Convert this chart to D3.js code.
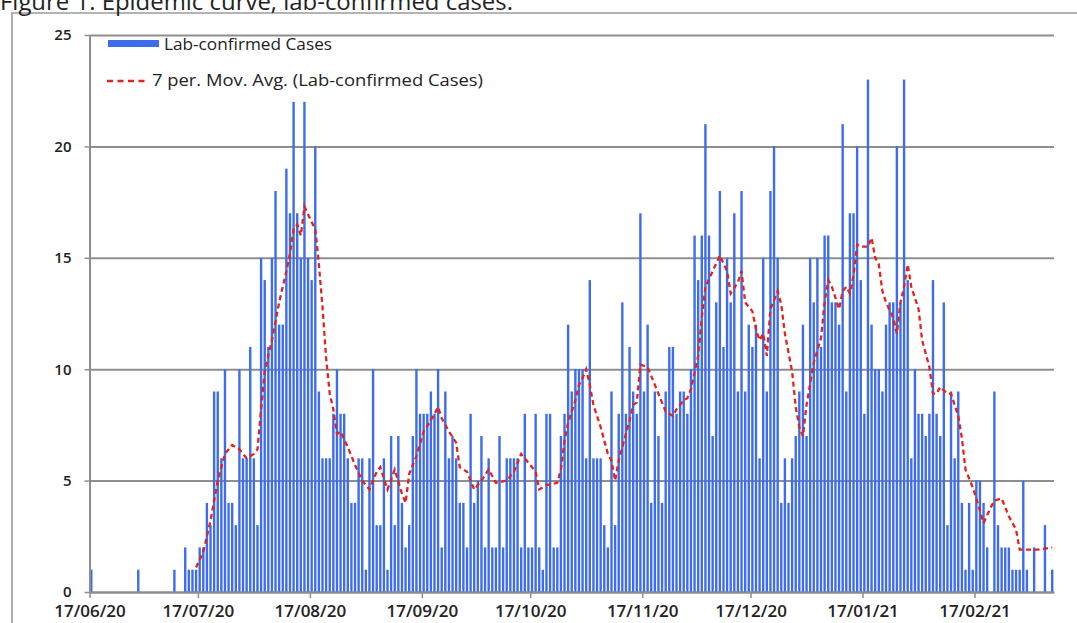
<!DOCTYPE html>
<html>
<head>
<meta charset="utf-8">
<script src="https://cdn.jsdelivr.net/npm/d3@7"></script>
<style>
body { margin: 0; background: #fff; }
svg { display: block; }
text { font-family: "Open Sans", sans-serif; fill: #222; }
</style>
</head>
<body>
<svg id="chart" width="1077" height="623"></svg>
<script>
// daily lab-confirmed cases, one value per day from startDate
var startDate = "2020-06-17";
var cases = [
  1,0,0,0,0,0,0,0,0,0,        // 17/06
  0,0,0,1,0,0,0,0,0,0,
  0,0,0,1,0,0,2,1,1,1,
  2,2,4,3,9,9,6,10,4,4,       // 17/07
  3,10,6,6,11,6,3,15,14,11,
  15,18,12,12,19,17,22,17,15,22,
  15,14,20,9,6,6,6,8,10,8,    // 17/08
  8,6,4,4,6,6,1,6,10,3,
  3,6,1,7,3,7,4,2,3,7,
  10,8,8,8,9,8,10,2,9,6,      // 17/09
  7,6,4,4,2,8,4,5,7,2,
  6,2,2,7,2,6,6,6,6,2,
  8,2,2,8,2,1,8,8,2,2,        // 17/10
  7,8,12,9,10,10,10,6,14,6,
  6,6,3,2,9,3,8,13,8,11,
  9,8,17,9,12,4,9,7,4,9,      // 17/11
  11,11,8,9,9,8,10,16,14,16,
  21,16,7,13,18,11,15,13,17,9,
  18,9,12,11,12,6,15,9,18,20, // 17/12
  15,4,6,4,6,7,9,12,7,15,
  13,15,11,16,16,13,13,12,21,9,
  17,17,20,14,8,23,12,10,10,9, // 17/01
  12,13,13,20,13,23,14,6,10,8,
  8,7,8,14,8,7,13,3,9,6,
  9,4,1,4,1,5,5,4,2,0,        // 17/02
  9,3,2,2,2,1,1,1,5,1,
  0,2,0,0,3,0,1
];

// 7 per. moving average: [day since startDate, value]
var movAvg = [
  [29,1.1],[31,1.8],[33,3.2],[35,5.0],[37,6.2],[39,6.6],[41,6.4],[43,6.0],[45,6.2],[46,6.4],
  [47,8.2],[48,9.9],[50,11.3],[52,13.0],[54,14.4],[55,15.2],[56,16.3],[57,16.5],[58,16.0],[59,17.3],
  [61,16.6],[62,16.3],[63,14.7],[64,12.8],[65,10.5],[66,8.9],[67,8.2],[68,7.1],[69,7.2],[71,6.5],
  [73,5.7],[75,5.0],[77,4.6],[79,5.4],[80,5.6],[82,4.6],[84,5.5],[86,4.4],[87,4.0],[88,5.3],
  [90,6.1],[92,7.2],[94,7.7],[96,8.3],[97,7.8],[98,7.5],[99,7.2],[101,6.7],[102,5.6],[104,5.4],
  [106,4.6],[108,5.0],[110,5.5],[112,4.9],[115,5.0],[117,5.4],[119,6.2],[121,5.8],[123,5.4],[124,4.6],
  [126,4.8],[129,4.9],[130,5.5],[131,6.8],[132,7.6],[134,8.6],[135,9.3],[136,9.6],[137,10.0],[138,9.3],
  [139,8.4],[141,7.4],[143,6.2],[144,5.9],[145,5.0],[146,5.9],[148,7.1],[149,7.7],[150,8.4],[151,8.5],
  [152,10.2],[154,10.1],[156,9.3],[157,8.9],[159,8.1],[161,7.9],[162,8.2],[164,8.6],[165,8.7],[166,9.1],
  [168,10.6],[169,12.3],[170,13.7],[172,14.4],[174,15.1],[176,14.4],[177,13.4],[179,13.9],[180,14.4],[181,13.0],
  [183,12.6],[184,11.8],[185,11.3],[186,11.6],[187,10.6],[188,12.7],[190,13.5],[191,12.9],[192,11.6],[194,9.9],
  [195,8.3],[196,7.4],[197,7.0],[198,8.4],[200,10.3],[202,11.4],[203,13.0],[204,14.0],[205,13.7],[207,12.7],
  [208,13.5],[209,13.7],[210,13.4],[211,14.2],[212,15.6],[213,15.5],[215,15.5],[216,15.9],[217,15.0],[218,14.7],
  [219,13.5],[220,13.0],[222,12.3],[223,11.6],[224,13.0],[225,13.7],[226,14.7],[227,13.7],[229,12.7],[230,11.3],
  [232,10.1],[233,8.9],[234,8.9],[235,9.2],[237,8.9],[238,8.9],[240,7.9],[241,6.9],[242,5.5],[244,4.7],
  [245,4.2],[247,3.1],[249,3.8],[250,4.1],[252,4.2],[254,3.4],[256,2.8],[257,1.9],[259,1.9],[262,1.9],
  [266,2.0]
];

var yTicks = [0, 5, 10, 15, 20, 25];
var xTickDates = ["2020-06-17","2020-07-17","2020-08-17","2020-09-17","2020-10-17",
                  "2020-11-17","2020-12-17","2021-01-17","2021-02-17"];
var title = "Figure 1: Epidemic curve, lab-confirmed cases.";
var legendLabels = ["Lab-confirmed Cases", "7 per. Mov. Avg. (Lab-confirmed Cases)"];

var parse = d3.utcParse("%Y-%m-%d");
var day0 = parse(startDate);
var nDays = cases.length;

var svg = d3.select("#chart");
var margin = {top: 35, right: 23, bottom: 31, left: 89.5};
var width = 1077 - margin.left - margin.right;
var height = 623 - margin.top - margin.bottom;

var barColor = "#3d6ded";
var lineColor = "#e3241d";
var gridColor = "#8e8e8e";

// outer frame (only top and left edges fall inside the picture)
svg.append("path")
  .attr("d", "M12,623V13H1077")
  .attr("fill", "none")
  .attr("stroke", "#9c9c9c")
  .attr("stroke-width", 1.6);

// title sits mostly above the top edge, as in the source picture
svg.append("text")
  .attr("x", 0)
  .attr("y", 10)
  .attr("font-size", 23)
  .attr("textLength", 513)
  .attr("lengthAdjust", "spacingAndGlyphs")
  .text(title);

var g = svg.append("g").attr("transform", "translate(" + margin.left + "," + margin.top + ")");

var x = d3.scaleUtc()
  .domain([day0, d3.utcDay.offset(day0, nDays)])
  .range([0, width]);

var y = d3.scaleLinear()
  .domain([0, 25])
  .range([height, 0]);

var dayW = x(d3.utcDay.offset(day0, 1)) - x(day0);
var barW = dayW * 0.66;

// gridlines
var grid = g.append("g")
  .call(d3.axisLeft(y).tickValues(yTicks).tickSize(-width).tickFormat(""));
grid.select(".domain").remove();
grid.selectAll("line").attr("stroke", gridColor).attr("stroke-width", 2);

// bars
var daily = cases.map(function(v, i) { return {date: d3.utcDay.offset(day0, i), value: v}; });
g.append("g")
  .selectAll("rect")
  .data(daily.filter(function(d) { return d.value > 0; }))
  .enter().append("rect")
  .attr("x", function(d) { return x(d.date) + (dayW - barW) / 2; })
  .attr("y", function(d) { return y(d.value); })
  .attr("width", barW)
  .attr("height", function(d) { return height - y(d.value); })
  .attr("fill", barColor);

// moving average trendline
var line = d3.line()
  .x(function(d) { return x(d3.utcDay.offset(day0, d[0])) + dayW / 2; })
  .y(function(d) { return y(d[1]); });

g.append("path")
  .datum(movAvg)
  .attr("d", line)
  .attr("fill", "none")
  .attr("stroke", lineColor)
  .attr("stroke-width", 2.3)
  .attr("stroke-dasharray", "5,3.5");

// axes
var xAxis = g.append("g")
  .attr("transform", "translate(0," + height + ")")
  .call(d3.axisBottom(x)
    .tickValues(xTickDates.map(parse))
    .tickFormat(d3.utcFormat("%d/%m/%y"))
    .tickSize(6)
    .tickSizeOuter(0)
    .tickPadding(7));
xAxis.select(".domain").attr("stroke", gridColor).attr("stroke-width", 2);
xAxis.selectAll("line").attr("stroke", gridColor).attr("stroke-width", 1.5);
xAxis.selectAll("text")
  .attr("font-size", 17)
  .attr("font-weight", 600)
  .attr("font-family", "'Open Sans', sans-serif")
  .attr("fill", "#222");

var yAxis = g.append("g")
  .call(d3.axisLeft(y).tickValues(yTicks).tickSize(5).tickSizeOuter(0).tickPadding(13));
yAxis.select(".domain").attr("stroke", gridColor).attr("stroke-width", 2);
yAxis.selectAll("line").attr("stroke", gridColor).attr("stroke-width", 1.5);
yAxis.selectAll("text")
  .attr("font-size", 15)
  .attr("font-weight", 600)
  .attr("font-family", "'Open Sans', sans-serif")
  .attr("fill", "#222");

// legend
var legend = svg.append("g");
legend.append("rect")
  .attr("x", 108).attr("y", 40)
  .attr("width", 51).attr("height", 7)
  .attr("fill", barColor);
legend.append("text")
  .attr("x", 164).attr("y", 50)
  .attr("font-size", 16.5)
  .attr("textLength", 168)
  .attr("lengthAdjust", "spacingAndGlyphs")
  .text(legendLabels[0]);
legend.append("line")
  .attr("x1", 107).attr("x2", 149)
  .attr("y1", 81).attr("y2", 81)
  .attr("stroke", lineColor)
  .attr("stroke-width", 2.3)
  .attr("stroke-dasharray", "6,4.5");
legend.append("text")
  .attr("x", 152).attr("y", 86)
  .attr("font-size", 16.5)
  .attr("textLength", 331)
  .attr("lengthAdjust", "spacingAndGlyphs")
  .text(legendLabels[1]);
</script>
</body>
</html>
